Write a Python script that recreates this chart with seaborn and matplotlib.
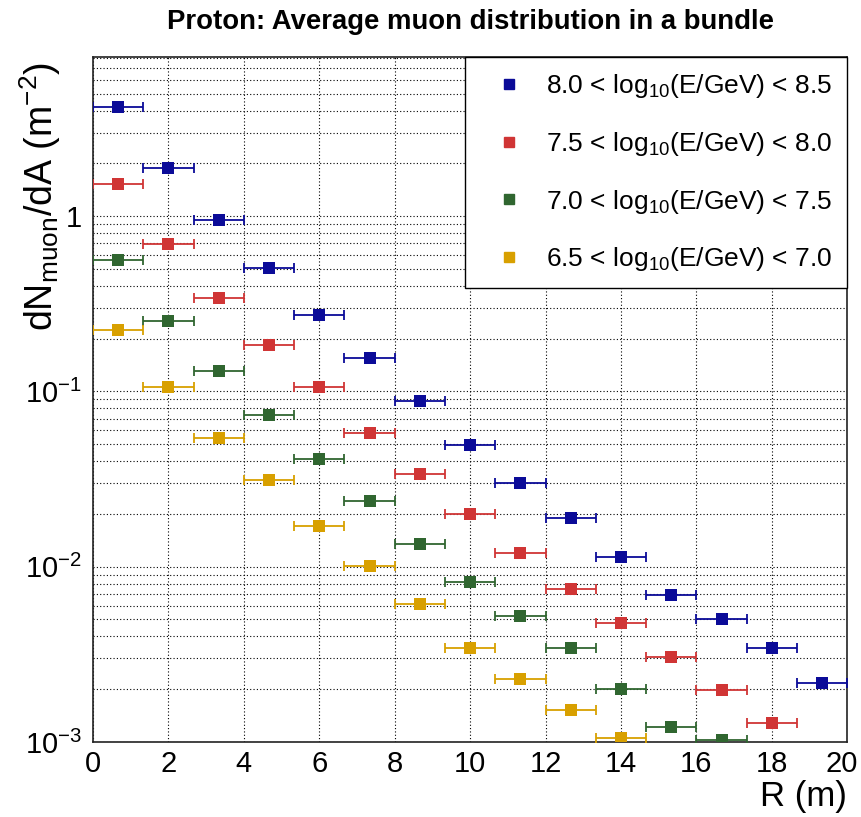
import numpy as np
import pandas as pd
import matplotlib
matplotlib.use("Agg")
import matplotlib.pyplot as plt
import matplotlib.transforms as mtransforms
from matplotlib.lines import Line2D
from matplotlib.ticker import MultipleLocator, LogLocator, NullFormatter
import seaborn as sns

# Radial bins (m)
r_centers = [0.667, 2.0, 3.333, 4.667, 6.0, 7.333, 8.667, 10.0,
             11.333, 12.667, 14.0, 15.333, 16.667, 18.0, 19.333]
r_halfwidth = 0.667

# Muon density per energy band (m^-2)
dens_80_85 = [4.18, 1.89, 0.945, 0.508, 0.274, 0.156, 0.0879, 0.0498,
              0.0300, 0.0189, 0.0114, 0.0069, 0.00503, 0.00343, 0.00217]
dens_75_80 = [1.535, 0.690, 0.343, 0.184, 0.106, 0.0578, 0.0339, 0.0199,
              0.0120, 0.00743, 0.00478, 0.00305, 0.00197, 0.00128, np.nan]
dens_70_75 = [0.560, 0.252, 0.130, 0.0731, 0.0414, 0.0238, 0.0135, 0.00818,
              0.00521, 0.00343, 0.00201, 0.00122, 0.00103, np.nan, np.nan]
dens_65_70 = [0.224, 0.106, 0.0541, 0.0313, 0.0171, 0.01014, 0.00613, 0.00343,
              0.00229, 0.00153, 0.00106, np.nan, np.nan, np.nan, np.nan]

labels = [r"8.0 < log$_{10}$(E/GeV) < 8.5",
          r"7.5 < log$_{10}$(E/GeV) < 8.0",
          r"7.0 < log$_{10}$(E/GeV) < 7.5",
          r"6.5 < log$_{10}$(E/GeV) < 7.0"]
colors = ["#0b0b98", "#d03535", "#306630", "#d8a000"]
series = [dens_80_85, dens_75_80, dens_70_75, dens_65_70]

df = pd.concat(
    [pd.DataFrame({"R": r_centers, "dens": vals, "band": lab})
     for vals, lab in zip(series, labels)],
    ignore_index=True,
).dropna()

sns.set_theme(style="white")
plt.rcParams["font.family"] = ["Liberation Sans", "DejaVu Sans"]
plt.rcParams["mathtext.fontset"] = "custom"
plt.rcParams["mathtext.rm"] = "Liberation Sans"
plt.rcParams["mathtext.it"] = "Liberation Sans:italic"
plt.rcParams["mathtext.bf"] = "Liberation Sans:bold"
plt.rcParams["text.color"] = "black"
plt.rcParams["axes.labelcolor"] = "black"
plt.rcParams["xtick.color"] = "black"
plt.rcParams["ytick.color"] = "black"

fig = plt.figure(figsize=(8.61, 8.17), dpi=100)
ax = fig.add_axes([0.108, 0.0918, 0.876, 0.8385])

ax.set_yscale("log")
ax.set_xlim(0, 20)
ax.set_ylim(1e-3, 8.1)

# Dotted grid: x at major ticks, y at every decade and sub-decade tick
ax.xaxis.set_major_locator(MultipleLocator(2))
ax.xaxis.set_minor_locator(MultipleLocator(0.5))
ax.yaxis.set_major_locator(LogLocator(base=10, numticks=10))
ax.yaxis.set_minor_locator(LogLocator(base=10, subs=np.arange(2, 10), numticks=20))
ax.yaxis.set_minor_formatter(NullFormatter())
ax.grid(True, which="major", axis="x", color="black", linestyle=(0, (1, 2)), linewidth=0.8)
ax.grid(True, which="both", axis="y", color="black", linestyle=(0, (1, 2)), linewidth=0.8)
ax.set_axisbelow(True)

# Horizontal bin-width bars
for vals, col in zip(series, colors):
    ax.errorbar(r_centers, vals, xerr=r_halfwidth, fmt="none", ecolor=col,
                elinewidth=1.3, capsize=3.5, capthick=1.3, zorder=3)

sns.scatterplot(data=df, x="R", y="dens", hue="band", hue_order=labels,
                palette=dict(zip(labels, colors)), marker="s", s=75,
                edgecolor="none", linewidth=0, legend=False, ax=ax, zorder=4)

def ytick_fmt(v, pos):
    e = int(round(np.log10(v)))
    return "1" if e == 0 else r"$10^{%d}$" % e

ax.yaxis.set_major_formatter(plt.FuncFormatter(ytick_fmt))

ax.tick_params(axis="both", which="major", direction="in", length=15, width=1.2,
               labelsize=21, color="#222222", labelcolor="black",
               right=False, top=False, pad=6)
ax.tick_params(axis="both", which="minor", direction="in", length=8, width=1.0,
               color="#222222", right=False, top=False)
ax.tick_params(axis="y", which="major", pad=8)

for sp in ax.spines.values():
    sp.set_color("#222222")
    sp.set_linewidth(1.2)

ax.set_xlabel("R (m)", fontsize=25, loc="right", labelpad=1)
ax.set_ylabel(r"dN$_{\rm muon}$/dA (m$^{-2}$)", fontsize=27, loc="top")
ax.yaxis.set_label_coords(-0.040, 0.993)
ax.set_title("Proton: Average muon distribution in a bundle", fontsize=19.8,
             fontweight="bold", pad=20)

handles = [Line2D([], [], marker="s", linestyle="none", color=c, markersize=7)
           for c in colors]
leg = ax.legend(handles, labels, loc="upper right", bbox_to_anchor=(1.0, 1.0),
                fontsize=19, frameon=True, fancybox=False, framealpha=1,
                edgecolor="black", borderpad=0.57, labelspacing=1.13,
                handletextpad=0.3, borderaxespad=0, handlelength=2.2)
leg.get_frame().set_linewidth(1.0)

# Keep the last x tick label inside the canvas
fig.canvas.draw()
last = [t for t in ax.get_xticklabels() if t.get_text() in ("20", "$\\mathdefault{20}$")]
shift = mtransforms.ScaledTranslation(-4 / 72, 0, fig.dpi_scale_trans)
for t in last:
    t.set_transform(t.get_transform() + shift)

fig.savefig("out.png", dpi=100, facecolor="white")
